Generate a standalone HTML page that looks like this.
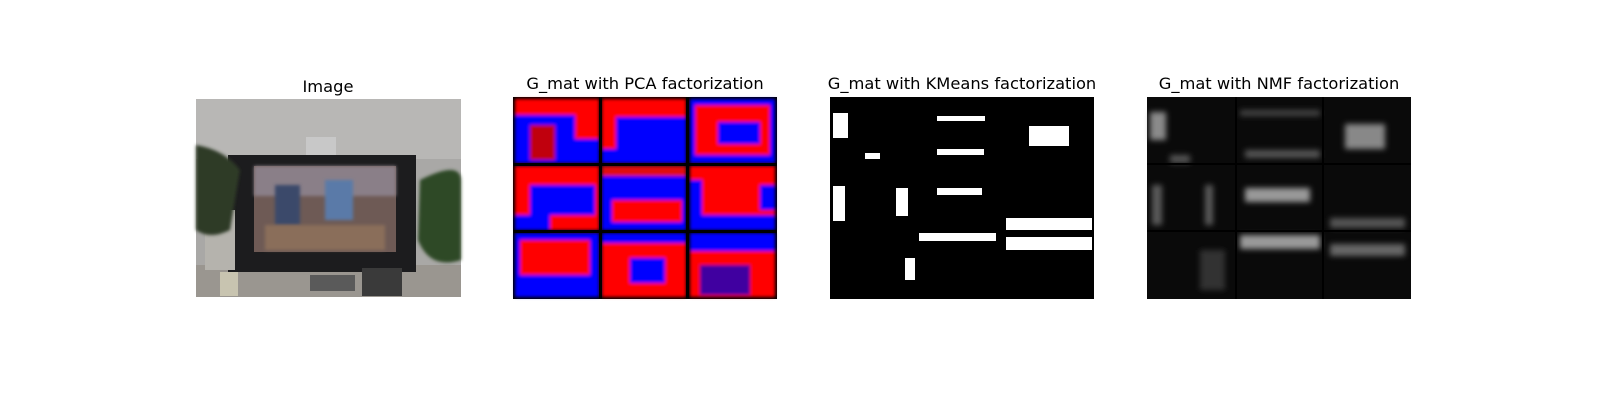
<!DOCTYPE html>
<html><head><meta charset="utf-8"><style>
html,body{margin:0;background:#fff;width:1600px;height:400px;overflow:hidden}
text{font-family:"DejaVu Sans","Liberation Sans",sans-serif;font-size:16.3px;fill:#000}
</style></head><body>
<svg width="1600" height="400" style="display:block">
<defs>
<filter id="bl" x="-20%" y="-20%" width="140%" height="140%"><feGaussianBlur stdDeviation="3"/></filter>
<filter id="bl2" x="-20%" y="-20%" width="140%" height="140%"><feGaussianBlur stdDeviation="1.5"/></filter>
</defs>
<g>
<text x="328" y="92" text-anchor="middle">Image</text>
<rect x="196" y="99" width="265" height="198" fill="#a9a8a6"/>
<rect x="196" y="99" width="265" height="60" fill="#b8b7b5"/>
<rect x="306" y="137" width="30" height="18" fill="#c8c8c8"/>
<rect x="196" y="265" width="265" height="32" fill="#9a9690"/>
<rect x="228" y="155" width="188" height="117" fill="#1c1c1e"/>
<rect x="254" y="166" width="142" height="86" fill="#6e5a55"/>
<rect x="254" y="166" width="142" height="30" fill="#8a7f88" filter="url(#bl2)"/>
<rect x="275" y="185" width="25" height="40" fill="#3a4a6a" filter="url(#bl2)"/>
<rect x="325" y="180" width="28" height="40" fill="#5a7aa8" filter="url(#bl2)"/>
<rect x="265" y="225" width="120" height="25" fill="#8a6e5a" filter="url(#bl2)"/>
<rect x="205" y="210" width="30" height="60" fill="#b5b3ad"/>
<path d="M196 145 Q225 150 240 170 L230 230 Q210 240 196 230Z" fill="#2e3a28" filter="url(#bl2)"/>
<path d="M420 180 Q460 160 461 180 L461 260 Q430 270 418 240Z" fill="#2f4a25" filter="url(#bl2)"/>
<rect x="362" y="268" width="40" height="28" fill="#3a3a3a"/>
<rect x="220" y="272" width="18" height="24" fill="#c8c4b0"/>
<rect x="310" y="275" width="45" height="16" fill="#5a5a5a"/>
</g>
<g>
<text x="645" y="89" text-anchor="middle">G_mat with PCA factorization</text>
<rect x="513" y="97" width="264" height="202" fill="#000"/>
<g filter="url(#bl2)">
<rect x="515" y="99" width="84" height="64" fill="#0000ff"/>
<rect x="515" y="99" width="84" height="16" fill="#ff0000"/>
<rect x="575" y="99" width="24" height="40" fill="#ff0000"/>
<rect x="530" y="125" width="25" height="35" fill="#c00010"/>
<rect x="602" y="99" width="84" height="64" fill="#0000ff"/>
<rect x="602" y="99" width="84" height="18" fill="#ff0000"/>
<rect x="602" y="99" width="14" height="50" fill="#ff0000"/>
<rect x="690" y="99" width="85" height="64" fill="#0000ff"/>
<rect x="695" y="105" width="75" height="50" fill="#ff0000"/>
<rect x="718" y="122" width="42" height="22" fill="#0000ff"/>
<rect x="515" y="166" width="84" height="64" fill="#ff0000"/>
<rect x="530" y="185" width="65" height="30" fill="#0000ff"/>
<rect x="515" y="215" width="35" height="15" fill="#0000ff"/>
<rect x="602" y="166" width="84" height="64" fill="#0000ff"/>
<rect x="612" y="200" width="70" height="22" fill="#ff0000"/>
<rect x="602" y="166" width="84" height="10" fill="#e01010"/>
<rect x="690" y="166" width="85" height="64" fill="#ff0000"/>
<rect x="690" y="215" width="85" height="15" fill="#0000ff"/>
<rect x="690" y="180" width="12" height="35" fill="#0000ff"/>
<rect x="760" y="185" width="15" height="25" fill="#0000ff"/>
<rect x="515" y="233" width="84" height="64" fill="#0000ff"/>
<rect x="520" y="240" width="70" height="35" fill="#ff0000"/>
<rect x="602" y="233" width="84" height="64" fill="#ff0000"/>
<rect x="602" y="233" width="84" height="10" fill="#0000ff"/>
<rect x="630" y="258" width="35" height="25" fill="#0000ff"/>
<rect x="690" y="233" width="85" height="64" fill="#ff0000"/>
<rect x="690" y="233" width="85" height="18" fill="#0000ff"/>
<rect x="700" y="265" width="50" height="30" fill="#4000a0"/>
</g>
<rect x="599" y="97" width="3" height="202" fill="#000"/>
<rect x="686" y="97" width="3" height="202" fill="#000"/>
<rect x="513" y="163" width="264" height="3" fill="#000"/>
<rect x="513" y="230" width="264" height="3" fill="#000"/>
</g>
<g>
<text x="962" y="89" text-anchor="middle">G_mat with KMeans factorization</text>
<rect x="830" y="97" width="264" height="202" fill="#000"/>
<g fill="#fff">
<rect x="833" y="113" width="15" height="25"/>
<rect x="865" y="153" width="15" height="6"/>
<rect x="937" y="116" width="48" height="5"/>
<rect x="937" y="149" width="47" height="6"/>
<rect x="1029" y="126" width="40" height="20"/>
<rect x="833" y="186" width="12" height="35"/>
<rect x="896" y="188" width="12" height="28"/>
<rect x="937" y="188" width="45" height="7"/>
<rect x="1006" y="218" width="86" height="12"/>
<rect x="919" y="233" width="77" height="8"/>
<rect x="1006" y="237" width="86" height="13"/>
<rect x="905" y="258" width="10" height="22"/>
</g>
</g>
<g>
<text x="1279" y="89" text-anchor="middle">G_mat with NMF factorization</text>
<rect x="1147" y="97" width="264" height="202" fill="#0a0a0a"/>
<g filter="url(#bl)">
<rect x="1150" y="112" width="16" height="28" fill="#8a8a8a"/>
<rect x="1170" y="155" width="20" height="8" fill="#555"/>
<rect x="1240" y="110" width="80" height="6" fill="#444"/>
<rect x="1245" y="150" width="75" height="8" fill="#555"/>
<rect x="1345" y="124" width="40" height="25" fill="#888"/>
<rect x="1152" y="185" width="10" height="40" fill="#5a5a5a"/>
<rect x="1205" y="185" width="8" height="40" fill="#5a5a5a"/>
<rect x="1245" y="188" width="65" height="14" fill="#999"/>
<rect x="1330" y="218" width="75" height="10" fill="#555"/>
<rect x="1240" y="235" width="80" height="14" fill="#9a9a9a"/>
<rect x="1330" y="244" width="75" height="12" fill="#666"/>
<rect x="1200" y="250" width="25" height="40" fill="#333"/>
</g>
<rect x="1235" y="97" width="2" height="202" fill="#000"/>
<rect x="1322" y="97" width="2" height="202" fill="#000"/>
<rect x="1147" y="163" width="264" height="2" fill="#000"/>
<rect x="1147" y="230" width="264" height="2" fill="#000"/>
</g>
</svg>
</body></html>
